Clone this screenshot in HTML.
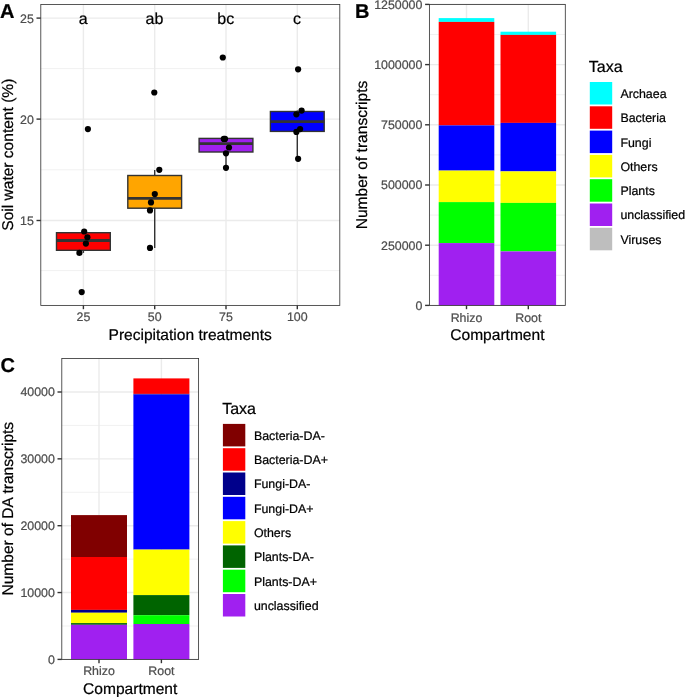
<!DOCTYPE html>
<html><head><meta charset="utf-8"><title>Figure</title>
<style>
html,body{margin:0;padding:0;background:#fff;}
body{width:685px;height:697px;overflow:hidden;}
svg{display:block;font-family:"Liberation Sans",Arial,Helvetica,sans-serif;text-rendering:geometricPrecision;}
</style></head><body>
<svg width="685" height="697" viewBox="0 0 685 697">
<rect x="0" y="0" width="685" height="697" fill="#fff"/>
<rect x="40.8" y="4.5" width="299.0" height="300.9" fill="#fff"/>
<line x1="40.8" x2="339.8" y1="68.6" y2="68.6" stroke="#EBEBEB" stroke-width="0.7"/>
<line x1="40.8" x2="339.8" y1="169.8" y2="169.8" stroke="#EBEBEB" stroke-width="0.7"/>
<line x1="40.8" x2="339.8" y1="270.6" y2="270.6" stroke="#EBEBEB" stroke-width="0.7"/>
<line x1="40.8" x2="339.8" y1="18.1" y2="18.1" stroke="#EBEBEB" stroke-width="1.4"/>
<line x1="40.8" x2="339.8" y1="119.1" y2="119.1" stroke="#EBEBEB" stroke-width="1.4"/>
<line x1="40.8" x2="339.8" y1="220.5" y2="220.5" stroke="#EBEBEB" stroke-width="1.4"/>
<line x1="83.4" x2="83.4" y1="4.5" y2="305.4" stroke="#EBEBEB" stroke-width="1.4"/>
<line x1="154.7" x2="154.7" y1="4.5" y2="305.4" stroke="#EBEBEB" stroke-width="1.4"/>
<line x1="226.0" x2="226.0" y1="4.5" y2="305.4" stroke="#EBEBEB" stroke-width="1.4"/>
<line x1="297.3" x2="297.3" y1="4.5" y2="305.4" stroke="#EBEBEB" stroke-width="1.4"/>
<line x1="83.4" x2="83.4" y1="250.3" y2="252.9" stroke="#333333" stroke-width="1.4"/>
<line x1="83.4" x2="83.4" y1="231.5" y2="232.7" stroke="#333333" stroke-width="1.4"/>
<rect x="56.50" y="232.70" width="53.80" height="17.60" fill="#FF0000" stroke="#333333" stroke-width="1.4"/>
<line x1="56.50000000000001" x2="110.30000000000001" y1="240.5" y2="240.5" stroke="#333333" stroke-width="2.8"/>
<line x1="154.7" x2="154.7" y1="208.2" y2="247.9" stroke="#333333" stroke-width="1.4"/>
<line x1="154.7" x2="154.7" y1="170.0" y2="175.5" stroke="#333333" stroke-width="1.4"/>
<rect x="127.80" y="175.50" width="53.80" height="32.70" fill="#FFA500" stroke="#333333" stroke-width="1.4"/>
<line x1="127.79999999999998" x2="181.6" y1="198.4" y2="198.4" stroke="#333333" stroke-width="2.8"/>
<line x1="226.0" x2="226.0" y1="152.0" y2="167.8" stroke="#333333" stroke-width="1.4"/>
<rect x="199.10" y="138.40" width="53.80" height="13.60" fill="#A020F0" stroke="#333333" stroke-width="1.4"/>
<line x1="199.1" x2="252.9" y1="143.7" y2="143.7" stroke="#333333" stroke-width="2.8"/>
<line x1="297.3" x2="297.3" y1="131.4" y2="158.8" stroke="#333333" stroke-width="1.4"/>
<line x1="297.3" x2="297.3" y1="110.6" y2="111.5" stroke="#333333" stroke-width="1.4"/>
<rect x="270.40" y="111.50" width="53.80" height="19.90" fill="#0000FF" stroke="#333333" stroke-width="1.4"/>
<line x1="270.40000000000003" x2="324.2" y1="121.6" y2="121.6" stroke="#333333" stroke-width="2.8"/>
<circle cx="87.9" cy="129.1" r="3.1" fill="#000"/>
<circle cx="84.2" cy="231.5" r="3.1" fill="#000"/>
<circle cx="87.4" cy="237.3" r="3.1" fill="#000"/>
<circle cx="85.9" cy="243.6" r="3.1" fill="#000"/>
<circle cx="79.4" cy="252.9" r="3.1" fill="#000"/>
<circle cx="81.7" cy="292.1" r="3.1" fill="#000"/>
<circle cx="154.3" cy="92.5" r="3.1" fill="#000"/>
<circle cx="159.3" cy="169.8" r="3.1" fill="#000"/>
<circle cx="154.8" cy="194.1" r="3.1" fill="#000"/>
<circle cx="151" cy="202.4" r="3.1" fill="#000"/>
<circle cx="150" cy="210.4" r="3.1" fill="#000"/>
<circle cx="150" cy="247.9" r="3.1" fill="#000"/>
<circle cx="222.8" cy="57.5" r="3.1" fill="#000"/>
<circle cx="223.8" cy="138.9" r="3.1" fill="#000"/>
<circle cx="225" cy="138.9" r="3.1" fill="#000"/>
<circle cx="229" cy="147.5" r="3.1" fill="#000"/>
<circle cx="226" cy="153.3" r="3.1" fill="#000"/>
<circle cx="226" cy="167.8" r="3.1" fill="#000"/>
<circle cx="298.1" cy="69.3" r="3.1" fill="#000"/>
<circle cx="301.6" cy="110.6" r="3.1" fill="#000"/>
<circle cx="296.4" cy="114.3" r="3.1" fill="#000"/>
<circle cx="300.1" cy="129.1" r="3.1" fill="#000"/>
<circle cx="296.4" cy="131.9" r="3.1" fill="#000"/>
<circle cx="298.1" cy="158.8" r="3.1" fill="#000"/>
<text x="83.2" y="24.0" font-size="16.0" text-anchor="middle" fill="#000" stroke="#000" stroke-width="0.22" font-weight="normal">a</text>
<text x="154.5" y="24.0" font-size="16.0" text-anchor="middle" fill="#000" stroke="#000" stroke-width="0.22" font-weight="normal">ab</text>
<text x="225.8" y="24.0" font-size="16.0" text-anchor="middle" fill="#000" stroke="#000" stroke-width="0.22" font-weight="normal">bc</text>
<text x="297.1" y="24.0" font-size="16.0" text-anchor="middle" fill="#000" stroke="#000" stroke-width="0.22" font-weight="normal">c</text>
<rect x="40.8" y="4.5" width="299.0" height="300.9" fill="none" stroke="#333333" stroke-width="0.82"/>
<line x1="36.5" x2="40.8" y1="18.1" y2="18.1" stroke="#333333" stroke-width="1.4"/>
<text x="33.8" y="22.5" font-size="12.38" text-anchor="end" fill="#4D4D4D" stroke="#4D4D4D" stroke-width="0.22" font-weight="normal">25</text>
<line x1="36.5" x2="40.8" y1="119.1" y2="119.1" stroke="#333333" stroke-width="1.4"/>
<text x="33.8" y="123.5" font-size="12.38" text-anchor="end" fill="#4D4D4D" stroke="#4D4D4D" stroke-width="0.22" font-weight="normal">20</text>
<line x1="36.5" x2="40.8" y1="220.5" y2="220.5" stroke="#333333" stroke-width="1.4"/>
<text x="33.8" y="224.9" font-size="12.38" text-anchor="end" fill="#4D4D4D" stroke="#4D4D4D" stroke-width="0.22" font-weight="normal">15</text>
<line x1="83.4" x2="83.4" y1="305.4" y2="309.2" stroke="#333333" stroke-width="1.4"/>
<text x="83.4" y="321.29999999999995" font-size="12.38" text-anchor="middle" fill="#4D4D4D" stroke="#4D4D4D" stroke-width="0.22" font-weight="normal">25</text>
<line x1="154.7" x2="154.7" y1="305.4" y2="309.2" stroke="#333333" stroke-width="1.4"/>
<text x="154.7" y="321.29999999999995" font-size="12.38" text-anchor="middle" fill="#4D4D4D" stroke="#4D4D4D" stroke-width="0.22" font-weight="normal">50</text>
<line x1="226.0" x2="226.0" y1="305.4" y2="309.2" stroke="#333333" stroke-width="1.4"/>
<text x="226.0" y="321.29999999999995" font-size="12.38" text-anchor="middle" fill="#4D4D4D" stroke="#4D4D4D" stroke-width="0.22" font-weight="normal">75</text>
<line x1="297.3" x2="297.3" y1="305.4" y2="309.2" stroke="#333333" stroke-width="1.4"/>
<text x="297.3" y="321.29999999999995" font-size="12.38" text-anchor="middle" fill="#4D4D4D" stroke="#4D4D4D" stroke-width="0.22" font-weight="normal">100</text>
<text x="190.2" y="340.0" font-size="15.56" text-anchor="middle" fill="#000" stroke="#000" stroke-width="0.22" font-weight="normal">Precipitation treatments</text>
<text x="12.6" y="154.7" font-size="15.56" text-anchor="middle" fill="#000" stroke="#000" stroke-width="0.22" font-weight="normal" transform="rotate(-90 12.6 154.7)">Soil water content (%)</text>
<text x="0.0" y="17.5" font-size="20.0" text-anchor="start" fill="#000" stroke="#000" stroke-width="0.22" font-weight="bold">A</text>
<rect x="429.4" y="4.4" width="135.89999999999998" height="301.0" fill="#fff"/>
<line x1="429.4" x2="565.3" y1="34.5" y2="34.5" stroke="#EBEBEB" stroke-width="0.7"/>
<line x1="429.4" x2="565.3" y1="94.7" y2="94.7" stroke="#EBEBEB" stroke-width="0.7"/>
<line x1="429.4" x2="565.3" y1="154.9" y2="154.9" stroke="#EBEBEB" stroke-width="0.7"/>
<line x1="429.4" x2="565.3" y1="215.10000000000002" y2="215.10000000000002" stroke="#EBEBEB" stroke-width="0.7"/>
<line x1="429.4" x2="565.3" y1="275.3" y2="275.3" stroke="#EBEBEB" stroke-width="0.7"/>
<line x1="429.4" x2="565.3" y1="4.4" y2="4.4" stroke="#EBEBEB" stroke-width="1.4"/>
<line x1="429.4" x2="565.3" y1="64.6" y2="64.6" stroke="#EBEBEB" stroke-width="1.4"/>
<line x1="429.4" x2="565.3" y1="124.8" y2="124.8" stroke="#EBEBEB" stroke-width="1.4"/>
<line x1="429.4" x2="565.3" y1="185.0" y2="185.0" stroke="#EBEBEB" stroke-width="1.4"/>
<line x1="429.4" x2="565.3" y1="245.2" y2="245.2" stroke="#EBEBEB" stroke-width="1.4"/>
<line x1="429.4" x2="565.3" y1="305.4" y2="305.4" stroke="#EBEBEB" stroke-width="1.4"/>
<line x1="466.5" x2="466.5" y1="4.4" y2="305.4" stroke="#EBEBEB" stroke-width="1.4"/>
<line x1="528.3" x2="528.3" y1="4.4" y2="305.4" stroke="#EBEBEB" stroke-width="1.4"/>
<rect x="438.70" y="18.10" width="55.60" height="3.80" fill="#00FFFF"/>
<rect x="438.70" y="21.90" width="55.60" height="103.50" fill="#FF0000"/>
<rect x="438.70" y="125.40" width="55.60" height="45.20" fill="#0000FF"/>
<rect x="438.70" y="170.60" width="55.60" height="31.50" fill="#FFFF00"/>
<rect x="438.70" y="202.10" width="55.60" height="41.00" fill="#00FF00"/>
<rect x="438.70" y="243.10" width="55.60" height="62.30" fill="#A020F0"/>
<rect x="500.50" y="31.70" width="55.60" height="3.20" fill="#00FFFF"/>
<rect x="500.50" y="34.90" width="55.60" height="88.00" fill="#FF0000"/>
<rect x="500.50" y="122.90" width="55.60" height="48.50" fill="#0000FF"/>
<rect x="500.50" y="171.40" width="55.60" height="31.50" fill="#FFFF00"/>
<rect x="500.50" y="202.90" width="55.60" height="48.50" fill="#00FF00"/>
<rect x="500.50" y="251.40" width="55.60" height="54.00" fill="#A020F0"/>
<rect x="429.4" y="4.4" width="135.89999999999998" height="301.0" fill="none" stroke="#333333" stroke-width="0.82"/>
<line x1="425.09999999999997" x2="429.4" y1="4.4" y2="4.4" stroke="#333333" stroke-width="1.4"/>
<text x="422.4" y="8.8" font-size="12.38" text-anchor="end" fill="#4D4D4D" stroke="#4D4D4D" stroke-width="0.22" font-weight="normal">1250000</text>
<line x1="425.09999999999997" x2="429.4" y1="64.6" y2="64.6" stroke="#333333" stroke-width="1.4"/>
<text x="422.4" y="69.0" font-size="12.38" text-anchor="end" fill="#4D4D4D" stroke="#4D4D4D" stroke-width="0.22" font-weight="normal">1000000</text>
<line x1="425.09999999999997" x2="429.4" y1="124.8" y2="124.8" stroke="#333333" stroke-width="1.4"/>
<text x="422.4" y="129.2" font-size="12.38" text-anchor="end" fill="#4D4D4D" stroke="#4D4D4D" stroke-width="0.22" font-weight="normal">750000</text>
<line x1="425.09999999999997" x2="429.4" y1="185.0" y2="185.0" stroke="#333333" stroke-width="1.4"/>
<text x="422.4" y="189.4" font-size="12.38" text-anchor="end" fill="#4D4D4D" stroke="#4D4D4D" stroke-width="0.22" font-weight="normal">500000</text>
<line x1="425.09999999999997" x2="429.4" y1="245.2" y2="245.2" stroke="#333333" stroke-width="1.4"/>
<text x="422.4" y="249.6" font-size="12.38" text-anchor="end" fill="#4D4D4D" stroke="#4D4D4D" stroke-width="0.22" font-weight="normal">250000</text>
<line x1="425.09999999999997" x2="429.4" y1="305.4" y2="305.4" stroke="#333333" stroke-width="1.4"/>
<text x="422.4" y="309.79999999999995" font-size="12.38" text-anchor="end" fill="#4D4D4D" stroke="#4D4D4D" stroke-width="0.22" font-weight="normal">0</text>
<line x1="466.5" x2="466.5" y1="305.4" y2="309.2" stroke="#333333" stroke-width="1.4"/>
<text x="466.5" y="321.7" font-size="12.38" text-anchor="middle" fill="#4D4D4D" stroke="#4D4D4D" stroke-width="0.22" font-weight="normal">Rhizo</text>
<line x1="528.3" x2="528.3" y1="305.4" y2="309.2" stroke="#333333" stroke-width="1.4"/>
<text x="528.3" y="321.7" font-size="12.38" text-anchor="middle" fill="#4D4D4D" stroke="#4D4D4D" stroke-width="0.22" font-weight="normal">Root</text>
<text x="497.4" y="340.0" font-size="15.56" text-anchor="middle" fill="#000" stroke="#000" stroke-width="0.22" font-weight="normal">Compartment</text>
<text x="367.2" y="155.0" font-size="15.56" text-anchor="middle" fill="#000" stroke="#000" stroke-width="0.22" font-weight="normal" transform="rotate(-90 367.2 155.0)">Number of transcripts</text>
<text x="355.0" y="17.5" font-size="20.0" text-anchor="start" fill="#000" stroke="#000" stroke-width="0.22" font-weight="bold">B</text>
<text x="588.8" y="72.1" font-size="16.0" text-anchor="start" fill="#000" stroke="#000" stroke-width="0.22" font-weight="normal">Taxa</text>
<rect x="589.80" y="82.00" width="22.40" height="22.50" fill="#00FFFF"/>
<text x="620.4" y="97.89999999999999" font-size="12.4" text-anchor="start" fill="#000" stroke="#000" stroke-width="0.22" font-weight="normal">Archaea</text>
<rect x="589.80" y="106.30" width="22.40" height="22.50" fill="#FF0000"/>
<text x="620.4" y="122.19999999999999" font-size="12.4" text-anchor="start" fill="#000" stroke="#000" stroke-width="0.22" font-weight="normal">Bacteria</text>
<rect x="589.80" y="130.60" width="22.40" height="22.50" fill="#0000FF"/>
<text x="620.4" y="146.5" font-size="12.4" text-anchor="start" fill="#000" stroke="#000" stroke-width="0.22" font-weight="normal">Fungi</text>
<rect x="589.80" y="154.90" width="22.40" height="22.50" fill="#FFFF00"/>
<text x="620.4" y="170.8" font-size="12.4" text-anchor="start" fill="#000" stroke="#000" stroke-width="0.22" font-weight="normal">Others</text>
<rect x="589.80" y="179.20" width="22.40" height="22.50" fill="#00FF00"/>
<text x="620.4" y="195.1" font-size="12.4" text-anchor="start" fill="#000" stroke="#000" stroke-width="0.22" font-weight="normal">Plants</text>
<rect x="589.80" y="203.50" width="22.40" height="22.50" fill="#A020F0"/>
<text x="620.4" y="219.4" font-size="12.4" text-anchor="start" fill="#000" stroke="#000" stroke-width="0.22" font-weight="normal">unclassified</text>
<rect x="589.80" y="227.80" width="22.40" height="22.50" fill="#BEBEBE"/>
<text x="620.4" y="243.70000000000002" font-size="12.4" text-anchor="start" fill="#000" stroke="#000" stroke-width="0.22" font-weight="normal">Viruses</text>
<rect x="61.8" y="358.5" width="136.8" height="300.9" fill="#fff"/>
<line x1="61.8" x2="198.6" y1="358.6" y2="358.6" stroke="#EBEBEB" stroke-width="0.7"/>
<line x1="61.8" x2="198.6" y1="425.45000000000005" y2="425.45000000000005" stroke="#EBEBEB" stroke-width="0.7"/>
<line x1="61.8" x2="198.6" y1="492.3" y2="492.3" stroke="#EBEBEB" stroke-width="0.7"/>
<line x1="61.8" x2="198.6" y1="559.15" y2="559.15" stroke="#EBEBEB" stroke-width="0.7"/>
<line x1="61.8" x2="198.6" y1="626.0" y2="626.0" stroke="#EBEBEB" stroke-width="0.7"/>
<line x1="61.8" x2="198.6" y1="392.0" y2="392.0" stroke="#EBEBEB" stroke-width="1.4"/>
<line x1="61.8" x2="198.6" y1="458.85" y2="458.85" stroke="#EBEBEB" stroke-width="1.4"/>
<line x1="61.8" x2="198.6" y1="525.7" y2="525.7" stroke="#EBEBEB" stroke-width="1.4"/>
<line x1="61.8" x2="198.6" y1="592.55" y2="592.55" stroke="#EBEBEB" stroke-width="1.4"/>
<line x1="61.8" x2="198.6" y1="659.4" y2="659.4" stroke="#EBEBEB" stroke-width="1.4"/>
<line x1="99.0" x2="99.0" y1="358.5" y2="659.4" stroke="#EBEBEB" stroke-width="1.4"/>
<line x1="161.4" x2="161.4" y1="358.5" y2="659.4" stroke="#EBEBEB" stroke-width="1.4"/>
<rect x="71.00" y="515.10" width="56.00" height="41.90" fill="#800000"/>
<rect x="71.00" y="557.00" width="56.00" height="52.90" fill="#FF0000"/>
<rect x="71.00" y="609.90" width="56.00" height="2.85" fill="#00008B"/>
<rect x="71.00" y="612.75" width="56.00" height="10.35" fill="#FFFF00"/>
<rect x="71.00" y="623.10" width="56.00" height="1.70" fill="#006400"/>
<rect x="71.00" y="624.80" width="56.00" height="34.60" fill="#A020F0"/>
<rect x="133.40" y="378.40" width="56.00" height="15.50" fill="#FF0000"/>
<rect x="133.40" y="393.90" width="56.00" height="0.70" fill="#00008B"/>
<rect x="133.40" y="394.60" width="56.00" height="155.00" fill="#0000FF"/>
<rect x="133.40" y="549.60" width="56.00" height="45.50" fill="#FFFF00"/>
<rect x="133.40" y="595.10" width="56.00" height="20.10" fill="#006400"/>
<rect x="133.40" y="615.20" width="56.00" height="8.80" fill="#00FF00"/>
<rect x="133.40" y="624.00" width="56.00" height="35.40" fill="#A020F0"/>
<rect x="61.8" y="358.5" width="136.8" height="300.9" fill="none" stroke="#333333" stroke-width="0.82"/>
<line x1="57.5" x2="61.8" y1="392.0" y2="392.0" stroke="#333333" stroke-width="1.4"/>
<text x="54.8" y="396.4" font-size="12.38" text-anchor="end" fill="#4D4D4D" stroke="#4D4D4D" stroke-width="0.22" font-weight="normal">40000</text>
<line x1="57.5" x2="61.8" y1="458.85" y2="458.85" stroke="#333333" stroke-width="1.4"/>
<text x="54.8" y="463.25" font-size="12.38" text-anchor="end" fill="#4D4D4D" stroke="#4D4D4D" stroke-width="0.22" font-weight="normal">30000</text>
<line x1="57.5" x2="61.8" y1="525.7" y2="525.7" stroke="#333333" stroke-width="1.4"/>
<text x="54.8" y="530.1" font-size="12.38" text-anchor="end" fill="#4D4D4D" stroke="#4D4D4D" stroke-width="0.22" font-weight="normal">20000</text>
<line x1="57.5" x2="61.8" y1="592.55" y2="592.55" stroke="#333333" stroke-width="1.4"/>
<text x="54.8" y="596.9499999999999" font-size="12.38" text-anchor="end" fill="#4D4D4D" stroke="#4D4D4D" stroke-width="0.22" font-weight="normal">10000</text>
<line x1="57.5" x2="61.8" y1="659.4" y2="659.4" stroke="#333333" stroke-width="1.4"/>
<text x="54.8" y="663.8" font-size="12.38" text-anchor="end" fill="#4D4D4D" stroke="#4D4D4D" stroke-width="0.22" font-weight="normal">0</text>
<line x1="99.0" x2="99.0" y1="659.4" y2="663.1999999999999" stroke="#333333" stroke-width="1.4"/>
<text x="99.0" y="675.3" font-size="12.38" text-anchor="middle" fill="#4D4D4D" stroke="#4D4D4D" stroke-width="0.22" font-weight="normal">Rhizo</text>
<line x1="161.4" x2="161.4" y1="659.4" y2="663.1999999999999" stroke="#333333" stroke-width="1.4"/>
<text x="161.4" y="675.3" font-size="12.38" text-anchor="middle" fill="#4D4D4D" stroke="#4D4D4D" stroke-width="0.22" font-weight="normal">Root</text>
<text x="130.2" y="694.1" font-size="15.56" text-anchor="middle" fill="#000" stroke="#000" stroke-width="0.22" font-weight="normal">Compartment</text>
<text x="12.6" y="508.7" font-size="15.56" text-anchor="middle" fill="#000" stroke="#000" stroke-width="0.22" font-weight="normal" transform="rotate(-90 12.6 508.7)">Number of DA transcripts</text>
<text x="0.4" y="371.5" font-size="20.0" text-anchor="start" fill="#000" stroke="#000" stroke-width="0.22" font-weight="bold">C</text>
<text x="222.2" y="413.8" font-size="16.0" text-anchor="start" fill="#000" stroke="#000" stroke-width="0.22" font-weight="normal">Taxa</text>
<rect x="222.90" y="423.90" width="22.40" height="22.50" fill="#800000"/>
<text x="253.9" y="439.8" font-size="12.4" text-anchor="start" fill="#000" stroke="#000" stroke-width="0.22" font-weight="normal">Bacteria-DA-</text>
<rect x="222.90" y="448.20" width="22.40" height="22.50" fill="#FF0000"/>
<text x="253.9" y="464.1" font-size="12.4" text-anchor="start" fill="#000" stroke="#000" stroke-width="0.22" font-weight="normal">Bacteria-DA+</text>
<rect x="222.90" y="472.50" width="22.40" height="22.50" fill="#00008B"/>
<text x="253.9" y="488.40000000000003" font-size="12.4" text-anchor="start" fill="#000" stroke="#000" stroke-width="0.22" font-weight="normal">Fungi-DA-</text>
<rect x="222.90" y="496.80" width="22.40" height="22.50" fill="#0000FF"/>
<text x="253.9" y="512.6999999999999" font-size="12.4" text-anchor="start" fill="#000" stroke="#000" stroke-width="0.22" font-weight="normal">Fungi-DA+</text>
<rect x="222.90" y="521.10" width="22.40" height="22.50" fill="#FFFF00"/>
<text x="253.9" y="537.0" font-size="12.4" text-anchor="start" fill="#000" stroke="#000" stroke-width="0.22" font-weight="normal">Others</text>
<rect x="222.90" y="545.40" width="22.40" height="22.50" fill="#006400"/>
<text x="253.9" y="561.3" font-size="12.4" text-anchor="start" fill="#000" stroke="#000" stroke-width="0.22" font-weight="normal">Plants-DA-</text>
<rect x="222.90" y="569.70" width="22.40" height="22.50" fill="#00FF00"/>
<text x="253.9" y="585.6" font-size="12.4" text-anchor="start" fill="#000" stroke="#000" stroke-width="0.22" font-weight="normal">Plants-DA+</text>
<rect x="222.90" y="594.00" width="22.40" height="22.50" fill="#A020F0"/>
<text x="253.9" y="609.9" font-size="12.4" text-anchor="start" fill="#000" stroke="#000" stroke-width="0.22" font-weight="normal">unclassified</text>
</svg>
</body></html>
